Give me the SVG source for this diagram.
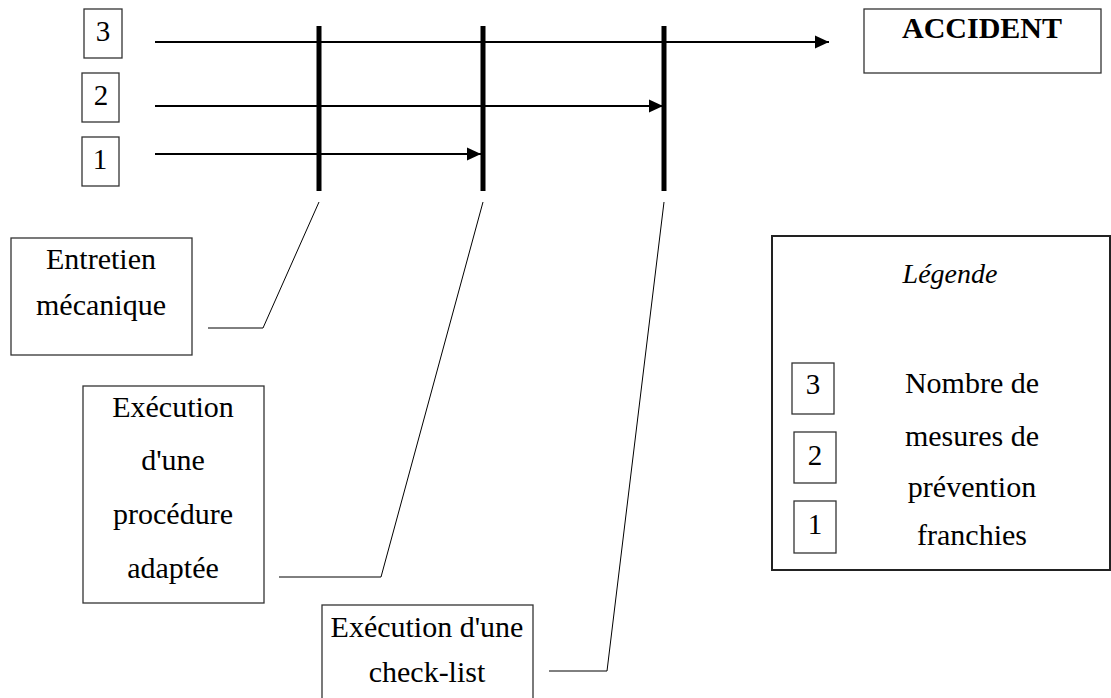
<svg xmlns="http://www.w3.org/2000/svg" width="1111" height="698" viewBox="0 0 1111 698">
  <style>
    text { font-family: "Liberation Serif", "DejaVu Serif", serif; fill: #000; }
    .lbl { font-size: 30px; text-anchor: middle; }
    .num { font-size: 29px; text-anchor: middle; }
    .box { fill: #fff; stroke: #333; stroke-width: 1.3; }
    .arrow { stroke: #000; stroke-width: 2; fill: none; marker-end: url(#ah); }
    .bar { stroke: #000; stroke-width: 5; }
    .lead { stroke: #000; stroke-width: 1; fill: none; }
  </style>
  <defs>
    <marker id="ah" markerUnits="userSpaceOnUse" markerWidth="15" markerHeight="15" viewBox="0 0 15 15" refX="14" refY="7.5" orient="auto">
      <path d="M0,1 L14,7.5 L0,14 Z" fill="#000"/>
    </marker>
  </defs>
  <rect width="1111" height="698" fill="#fff"/>

  <g id="num3"><rect class="box" x="84" y="9" width="38" height="49"/><text class="num" x="103" y="41">3</text></g>
  <g id="num2"><rect class="box" x="82" y="73" width="37" height="49"/><text class="num" x="101" y="105">2</text></g>
  <g id="num1"><rect class="box" x="82" y="137" width="37" height="49"/><text class="num" x="100" y="169">1</text></g>

  <g id="barriers">
    <line class="bar" x1="319" y1="26" x2="319" y2="191"/>
    <line class="bar" x1="483" y1="26" x2="483" y2="191"/>
    <line class="bar" x1="664" y1="26" x2="664" y2="191"/>
  </g>

  <g id="accident"><rect class="box" x="864" y="9" width="237" height="64"/><text x="982" y="38" font-size="30" font-weight="bold" text-anchor="middle">ACCIDENT</text></g>

  <g id="entretien">
    <rect class="box" x="11" y="238" width="181" height="117"/>
    <text class="lbl" x="101" y="269">Entretien</text>
    <text class="lbl" x="101" y="315">mécanique</text>
  </g>

  <g id="procedure">
    <rect class="box" x="83" y="386" width="181" height="217"/>
    <text class="lbl" x="173" y="417">Exécution</text>
    <text class="lbl" x="173" y="470">d'une</text>
    <text class="lbl" x="173" y="524">procédure</text>
    <text class="lbl" x="173" y="578">adaptée</text>
  </g>

  <g id="checklist">
    <rect class="box" x="322" y="605" width="211" height="100"/>
    <text class="lbl" x="427" y="637">Exécution d'une</text>
    <text class="lbl" x="427" y="682">check-list</text>
  </g>

  <g id="legende">
    <rect x="772" y="236" width="338" height="334" fill="#fff" stroke="#222" stroke-width="2"/>
    <text x="950" y="283" font-size="28" font-style="italic" text-anchor="middle">Légende</text>
    <rect class="box" x="792" y="363" width="42" height="51"/><text class="num" x="813" y="394">3</text>
    <rect class="box" x="794" y="432" width="42" height="51"/><text class="num" x="815" y="465">2</text>
    <rect class="box" x="794" y="501" width="42" height="52"/><text class="num" x="815" y="534">1</text>
    <text class="lbl" x="972" y="393">Nombre de</text>
    <text class="lbl" x="972" y="446">mesures de</text>
    <text class="lbl" x="972" y="497">prévention</text>
    <text class="lbl" x="972" y="545">franchies</text>
  </g>

  <g id="connectors">
    <line class="arrow" x1="155" y1="42" x2="829" y2="42"/>
    <line class="arrow" x1="155" y1="106" x2="663" y2="106"/>
    <line class="arrow" x1="155" y1="154" x2="481" y2="154"/>
    <polyline class="lead" points="319,202 263,328 208,328"/>
    <polyline class="lead" points="483,202 381,577 279,577"/>
    <polyline class="lead" points="664,202 607,671 549,671"/>
  </g>
</svg>
